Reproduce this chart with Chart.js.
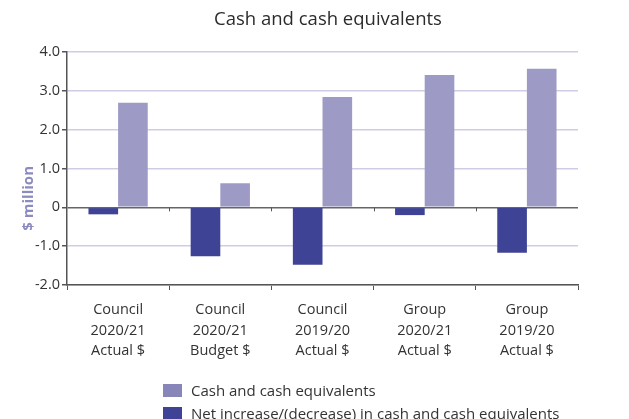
<!DOCTYPE html>
<html>
<head>
<meta charset="utf-8">
<script src="https://cdn.jsdelivr.net/npm/chart.js@4"></script>
<style>
  html, body { margin: 0; padding: 0; background: #fff; }
  #wrap { position: relative; width: 629px; height: 419px; overflow: hidden; }
  #legend { position: absolute; left: 163px; top: 380px; font-family: "Open Sans", sans-serif; font-size: 15px; color: #333; }
  #legend div { height: 23px; line-height: 20px; white-space: nowrap; }
  #legend span.box { display: inline-block; width: 19px; height: 13px; margin-right: 9px; vertical-align: -1px; }
</style>
</head>
<body>
<div id="wrap">
  <canvas id="c" width="629" height="419"></canvas>
  <div id="legend"></div>
</div>
<script>
// Categories (multi-line labels)
const categories = [
  ["Council", "2020/21", "Actual $"],
  ["Council", "2020/21", "Budget $"],
  ["Council", "2019/20", "Actual $"],
  ["Group", "2020/21", "Actual $"],
  ["Group", "2019/20", "Actual $"]
];
// $ million
const netChange = [-0.18, -1.26, -1.48, -0.20, -1.17];
const cashBalance = [2.69, 0.62, 2.84, 3.41, 3.57];
const seriesNames = ["Net increase/(decrease) in cash and cash equivalents", "Cash and cash equivalents"];
const yTicks = [-2, -1, 0, 1, 2, 3, 4];
const chartTitle = 'Cash and cash equivalents';
const axisTitle = '$ million';

const FONT = '"Open Sans", sans-serif';
const DARK = '#3f4395';
const LIGHT = '#9d9bc5';

// Heading, axis title beside the zero line, and small ticks on the zero line
const extras = {
  id: 'extras',
  afterDraw(chart) {
    const ctx = chart.ctx;
    const x = chart.scales.x, y = chart.scales.y;
    const y0 = y.getPixelForValue(0);
    ctx.save();
    ctx.strokeStyle = '#555';
    ctx.lineWidth = 1;
    for (let i = 1; i < categories.length; i++) {
      const px = Math.round((x.getPixelForValue(i - 1) + x.getPixelForValue(i)) / 2) + 0.5;
      ctx.beginPath();
      ctx.moveTo(px, y0);
      ctx.lineTo(px, y0 + 4);
      ctx.stroke();
    }
    ctx.fillStyle = '#2b2b2b';
    ctx.font = '18.5px ' + FONT;
    ctx.textAlign = 'center';
    ctx.textBaseline = 'middle';
    ctx.fillText(chartTitle, 328, 20);

    ctx.translate(29, y0 - 9);
    ctx.rotate(-Math.PI / 2);
    ctx.fillStyle = '#8c8bc0';
    ctx.font = 'bold 15px ' + FONT;
    ctx.fillText(axisTitle, 0, 0);
    ctx.restore();
  }
};

const chart = new Chart(document.getElementById('c'), {
  type: 'bar',
  data: {
    labels: categories,
    datasets: [
      { label: seriesNames[0], data: netChange, backgroundColor: DARK, borderWidth: 0 },
      { label: seriesNames[1], data: cashBalance, backgroundColor: LIGHT, borderWidth: 0 }
    ]
  },
  options: {
    responsive: false,
    animation: false,
    layout: { padding: { left: 10, right: 51, top: 52, bottom: 0 } },
    datasets: { bar: { categoryPercentage: 0.58, barPercentage: 1.0 } },
    plugins: {
      legend: { display: false },
      tooltip: { enabled: false },
      title: { display: false }
    },
    scales: {
      x: {
        grid: { display: true, drawOnChartArea: false, offset: true, color: '#555', tickLength: 5 },
        border: { color: '#555', width: 1.5 },
        ticks: { color: '#333', font: { family: FONT, size: 14.5, lineHeight: 1.4 }, padding: 10, maxRotation: 0 },
        afterFit(s) { s.height = 134; }
      },
      y: {
        min: -2, max: 4,
        afterBuildTicks(s) { s.ticks = yTicks.map(v => ({ value: v })); },
        grid: {
          color: ctx => ctx.tick && ctx.tick.value === 0 ? '#666' : '#cfcde6',
          lineWidth: 1.5,
          tickColor: '#555',
          tickLength: 5
        },
        border: { color: '#555', width: 1.5 },
        ticks: {
          color: '#333',
          font: { family: FONT, size: 14.5 },
          padding: 2,
          callback: v => v === 0 ? '0' : v.toFixed(1)
        },
        afterFit(s) { s.width = 57; }
      }
    }
  },
  plugins: [extras]
});

// Legend listed in the order: cash balance, then net change
const legend = document.getElementById('legend');
[1, 0].forEach(i => {
  const ds = chart.data.datasets[i];
  const row = document.createElement('div');
  const box = document.createElement('span');
  box.className = 'box';
  box.style.background = i === 1 ? '#8886b9' : DARK;
  row.appendChild(box);
  row.appendChild(document.createTextNode(ds.label));
  legend.appendChild(row);
});
</script>
</body>
</html>
